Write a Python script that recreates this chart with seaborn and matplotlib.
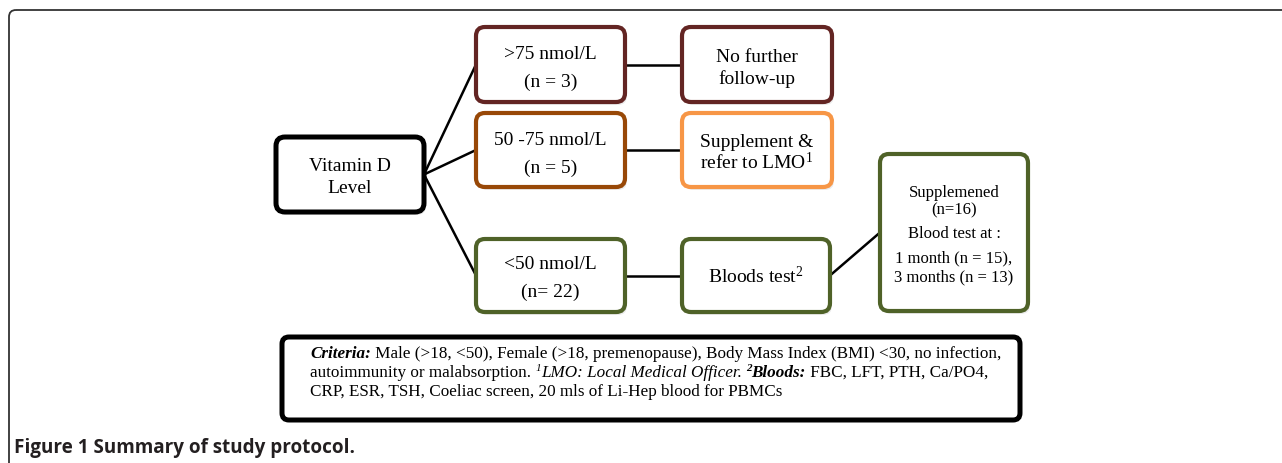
import matplotlib
matplotlib.use("Agg")
import matplotlib.pyplot as plt
import seaborn as sns
import pandas as pd
from matplotlib.patches import FancyBboxPatch

# --- content -------------------------------------------------------------
node_ids = ["vit", "hi", "mid", "lo", "none", "supp", "blood", "follow"]
node_labels = {
    "vit": ["Vitamin D", "Level"],
    "hi": [">75 nmol/L", "(n = 3)"],
    "mid": ["50 -75 nmol/L", "(n = 5)"],
    "lo": ["<50 nmol/L", "(n= 22)"],
    "none": ["No further", "follow-up"],
    "supp": ["Supplement &", r"refer to LMO$^{1}$"],
    "blood": [r"Bloods test$^{2}$"],
    "follow": ["Supplemened", "(n=16)", "Blood test at :",
               "1 month (n = 15),", "3 months (n = 13)"],
}
edges = [("vit", "hi"), ("vit", "mid"), ("vit", "lo"),
         ("hi", "none"), ("mid", "supp"), ("lo", "blood"),
         ("blood", "follow")]

criteria_lines = [
    [("Criteria:", "bi"),
     (" Male (>18, <50), Female (>18, premenopause), Body Mass Index (BMI) <30, no infection,", "")],
    [("autoimmunity or malabsorption. ", ""), ("1", "is"),
     ("LMO: Local Medical Officer.", "i"), (" ", ""), ("2", "bis"),
     ("Bloods:", "bi"), (" FBC, LFT, PTH, Ca/PO4,", "")],
    [("CRP, ESR, TSH, Coeliac screen, 20 mls of Li-Hep blood for PBMCs", "")],
]
caption = "Figure 1 Summary of study protocol."

# --- layout / style (pixel space) -----------------------------------------
box = {  # x, y(top), w, h
    "vit": (276, 138, 148, 75),
    "hi": (476, 28, 149, 75),
    "mid": (476, 114, 149, 74),
    "lo": (476, 240, 149, 73),
    "none": (682, 28, 150, 75),
    "supp": (682, 114, 150, 74),
    "blood": (682, 240, 148, 73),
    "follow": (880, 155, 148, 157),
}
baselines = {
    "vit": [33, 55], "hi": [31, 59], "mid": [31, 59], "lo": [29, 57],
    "none": [34, 56], "supp": [33, 55], "blood": [43],
    "follow": [42, 59, 83, 107, 126],
}
edge_col = {
    "vit": "#000000", "hi": "#632523", "none": "#632523",
    "mid": "#984807", "supp": "#F79646",
    "lo": "#4F6228", "blood": "#4F6228", "follow": "#4F6228",
}

sns.set_theme(style="white")
plt.rcParams["font.family"] = ["Liberation Serif", "DejaVu Serif"]
plt.rcParams["mathtext.fontset"] = "custom"
plt.rcParams["mathtext.rm"] = "Liberation Serif"
plt.rcParams["mathtext.it"] = "Liberation Serif:italic"
plt.rcParams["mathtext.bf"] = "Liberation Serif:bold"

W, H = 1282, 464
fig = plt.figure(figsize=(W / 100, H / 100), dpi=100)
ax = fig.add_axes([0, 0, 1, 1])

# connectors
def anchor(n, side):
    x, y, w, h = box[n]
    return (x + w, y + h / 2) if side == "r" else (x, y + h / 2)

rows = []
for k, (a, b) in enumerate(edges):
    (x0, y0), (x1, y1) = anchor(a, "r"), anchor(b, "l")
    rows += [{"edge": k, "x": x0, "y": y0}, {"edge": k, "x": x1, "y": y1}]
edf = pd.DataFrame(rows)
sns.lineplot(data=edf, x="x", y="y", units="edge", estimator=None,
             sort=False, color="black", lw=1.8, ax=ax, zorder=2)
ax.set_xlim(0, W)
ax.set_ylim(H, 0)
ax.axis("off")

# outer frame (cut off on right and bottom)
ax.add_patch(FancyBboxPatch((9, 11), W + 40, H + 40,
                            boxstyle="round,pad=0,rounding_size=7",
                            fc="none", ec="#333333", lw=1.3, zorder=1))

# boxes
for n in node_ids:
    x, y, w, h = box[n]
    ax.add_patch(FancyBboxPatch((x + 2, y + 3), w, h,
                                boxstyle="round,pad=0,rounding_size=9",
                                fc="#d9d9d9", ec="none", alpha=0.5, zorder=2.5))
    ax.add_patch(FancyBboxPatch((x, y), w, h,
                                boxstyle="round,pad=0,rounding_size=9",
                                fc="white", ec=edge_col[n],
                                lw=3.6 if n == "vit" else 3.0, zorder=3))
    fs = 12 if n == "follow" else 14
    for line, b in zip(node_labels[n], baselines[n]):
        ax.text(x + w / 2, y + b, line, ha="center", va="baseline",
                fontsize=fs, color="black", zorder=4)

# criteria box
ax.add_patch(FancyBboxPatch((282, 338), 738, 83,
                            boxstyle="round,pad=0,rounding_size=7",
                            fc="white", ec="black", lw=3.6, zorder=3))

renderer = fig.canvas.get_renderer()

def text_width(s, **kw):
    t1 = ax.text(0, 0, "|" + s + "|", **kw)
    t2 = ax.text(0, 0, "||", **kw)
    w = t1.get_window_extent(renderer).width - t2.get_window_extent(renderer).width
    t1.remove()
    t2.remove()
    return w

crit_fs = 12.3
for i, runs in enumerate(criteria_lines):
    cx, cy = 310, 358 + i * 19
    for s, st in runs:
        kw = dict(fontsize=crit_fs * (0.65 if "s" in st else 1),
                  fontweight="bold" if "b" in st else "normal",
                  fontstyle="italic" if "i" in st else "normal",
                  va="baseline", ha="left", color="black", zorder=4)
        ax.text(cx, cy - (6 if "s" in st else 0), s, **kw)
        cx += text_width(s, **kw)

ax.text(14, 453, caption, ha="left", va="baseline", fontsize=13.6,
        fontweight="bold", color="#231F20", family=["Open Sans", "DejaVu Sans"])

fig.savefig("out.png", dpi=100, facecolor="white")
